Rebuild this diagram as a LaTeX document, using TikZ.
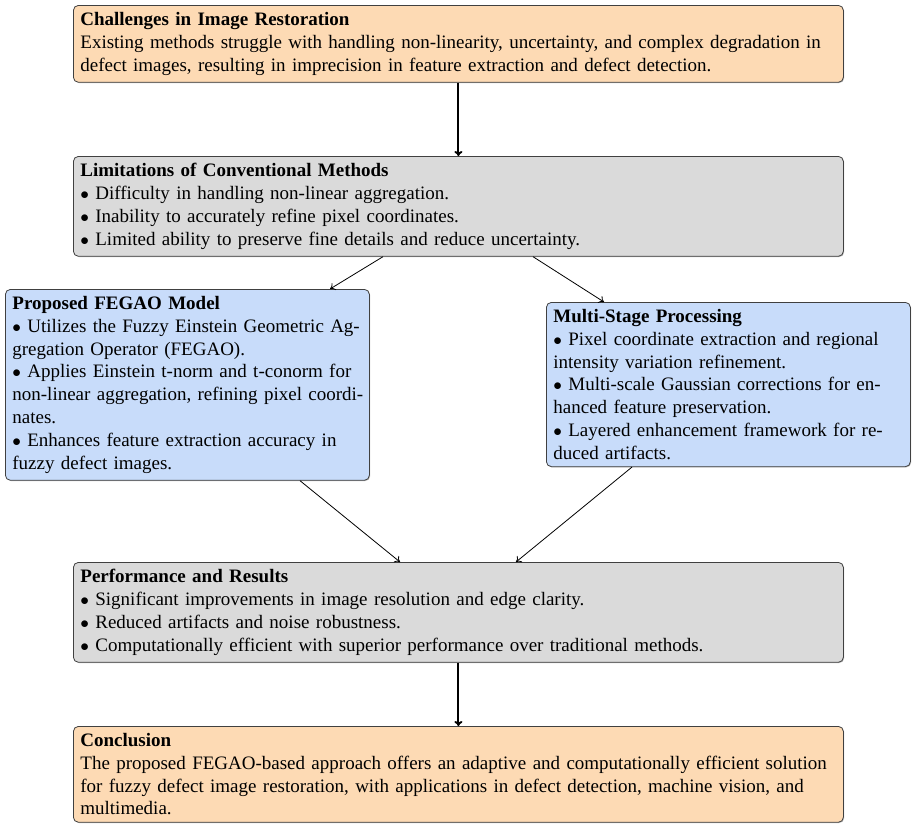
\documentclass[tikz,border=0pt]{standalone}
\usepackage{fontspec}
\setmainfont{Liberation Serif}
\usetikzlibrary{calc,shadows,arrows.meta}
\definecolor{boxorange}{RGB}{253,218,180}
\definecolor{boxgray}{RGB}{218,218,218}
\definecolor{boxblue}{RGB}{200,220,250}
\tikzset{
  box/.style={draw=black!75, line width=0.8pt, rounded corners=5pt, anchor=north west,
    inner sep=7pt, align=left, font=\fontsize{19}{22.8}\selectfont,
    drop shadow={shadow xshift=0.8pt,shadow yshift=-0.8pt,opacity=0.55}},
  widebox/.style={box, text width=756pt},
  narrowbox/.style={box, text width=350pt},
  thinarrow/.style={-{To[length=5pt,width=8pt]}, line width=0.8pt},
  thickarrow/.style={-{To[length=5pt,width=8pt]}, line width=1.9pt},
}
\begin{document}
\begin{tikzpicture}[x=1pt,y=1pt]
\useasboundingbox (0,0) rectangle (914,-825);
\node[widebox, fill=boxorange] (chal) at (73,-5) {\textbf{Challenges in Image Restoration}\\Existing methods struggle with handling non-linearity, uncertainty, and complex degradation in\\defect images, resulting in imprecision in feature extraction and defect detection.};
\node[widebox, fill=boxgray] (lim) at (73,-156) {\textbf{Limitations of Conventional Methods}\\$\bullet$ Difficulty in handling non-linear aggregation.\\$\bullet$ Inability to accurately refine pixel coordinates.\\$\bullet$ Limited ability to preserve fine details and reduce uncertainty.};
\node[narrowbox, fill=boxblue] (prop) at (5,-289) {\textbf{Proposed FEGAO Model}\\$\bullet$ Utilizes the Fuzzy Einstein Geometric Ag-\\gregation Operator (FEGAO).\\$\bullet$ Applies Einstein t-norm and t-conorm for\\\makebox[350pt][s]{non-linear aggregation, refining pixel coordi-}\\nates.\\$\bullet$ Enhances feature extraction accuracy in\\fuzzy defect images.};
\node[narrowbox, fill=boxblue] (multi) at (546,-302) {\textbf{Multi-Stage Processing}\\$\bullet$ Pixel coordinate extraction and regional\\intensity variation refinement.\\$\bullet$ Multi-scale Gaussian corrections for en-\\hanced feature preservation.\\$\bullet$ Layered enhancement framework for re-\\duced artifacts.};
\node[widebox, fill=boxgray] (perf) at (73,-562) {\textbf{Performance and Results}\\$\bullet$ Significant improvements in image resolution and edge clarity.\\$\bullet$ Reduced artifacts and noise robustness.\\$\bullet$ Computationally efficient with superior performance over traditional methods.};
\node[widebox, fill=boxorange] (conc) at (73,-726) {\textbf{Conclusion}\\The proposed FEGAO-based approach offers an adaptive and computationally efficient solution\\for fuzzy defect image restoration, with applications in defect detection, machine vision, and\\multimedia.};
\draw[thickarrow] (chal.south) -- (lim.north);
\draw[thinarrow] ($(lim.south west)+(310,0)$) -- ($(prop.north west)+(325,0)$);
\draw[thinarrow] ($(lim.south west)+(460,0)$) -- ($(multi.north west)+(58,0)$);
\draw[thinarrow] ($(prop.south west)+(295,0)$) -- ($(perf.north west)+(327,0)$);
\draw[thinarrow] ($(multi.south west)+(86,0)$) -- ($(perf.north west)+(443,0)$);
\draw[thickarrow] (perf.south) -- (conc.north);
\end{tikzpicture}
\end{document}
